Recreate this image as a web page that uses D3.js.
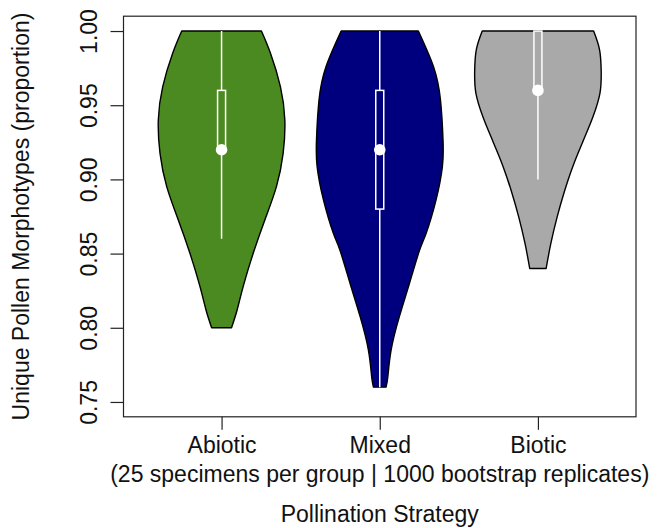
<!DOCTYPE html>
<html>
<head>
<meta charset="utf-8">
<script src="https://cdn.jsdelivr.net/npm/d3@7"></script>
<style>
  html, body { margin: 0; padding: 0; background: #ffffff; }
  svg { display: block; }
  text { font-family: "Liberation Sans", Arial, Helvetica, sans-serif; fill: #111; }
</style>
</head>
<body>
<svg id="chart" width="665" height="528"></svg>
<script>
// ---------------- data ----------------
const categories = ["Abiotic", "Mixed", "Biotic"];
const yTicks = [0.75, 0.80, 0.85, 0.90, 0.95, 1.00];

const whiskerLow  = [0.86, 0.76, 0.90];
const q1          = [0.92, 0.88, 0.96];
const medians     = [0.92, 0.92, 0.96];
const q3          = [0.96, 0.96, 1.00];
const whiskerHigh = [1.00, 1.00, 1.00];

// density outlines (value, relative density 0..1)
const abioticDensityV = [1.000, 0.985, 0.9625, 0.940, 0.9176, 0.8951, 0.8727, 0.8502, 0.8277, 0.812, 0.800];
const abioticDensityD = [0.63, 0.773, 0.93, 1.00, 0.973, 0.867, 0.684, 0.50, 0.341, 0.246, 0.157];

const mixedDensityV = [1.000, 0.976, 0.9535, 0.9266, 0.9086, 0.8862, 0.8639, 0.8524, 0.830, 0.8075, 0.7851, 0.767, 0.760];
const mixedDensityD = [0.61, 0.85, 0.96, 1.00, 0.99, 0.89, 0.735, 0.63, 0.47, 0.31, 0.18, 0.128, 0.10];

const bioticDensityV = [1.000, 0.9872, 0.9726, 0.958, 0.9423, 0.9311, 0.9244, 0.9086, 0.8907, 0.8749, 0.857, 0.840];
const bioticDensityD = [0.88, 0.975, 1.00, 0.98, 0.87, 0.765, 0.70, 0.55, 0.41, 0.305, 0.205, 0.13];

const fillColors = ["#4b8a20", "#00007f", "#a9a9a9"];

// ---------------- layout ----------------
const svg = d3.select("#chart");
const fontSize = 23;
const plot = { left: 123.5, right: 636, top: 16.2, bottom: 416.8 };

const x = d3.scaleLinear().domain([0.38, 3.62]).range([plot.left, plot.right]);
const y = d3.scaleLinear().domain([0.74, 1.01]).range([plot.bottom, plot.top]);
const halfWidth = 0.4; // max half width in x units

const densities = [
  abioticDensityV.map((v, i) => ({ v, d: abioticDensityD[i] })),
  mixedDensityV.map((v, i) => ({ v, d: mixedDensityD[i] })),
  bioticDensityV.map((v, i) => ({ v, d: bioticDensityD[i] }))
];

// violins
categories.forEach((c, i) => {
  const cx = i + 1;
  const area = d3.area()
    .y(d => y(d.v))
    .x0(d => x(cx - halfWidth * d.d))
    .x1(d => x(cx + halfWidth * d.d))
    .curve(d3.curveNatural);
  svg.append("path")
    .datum(densities[i])
    .attr("d", area)
    .attr("fill", fillColors[i])
    .attr("stroke", "#000")
    .attr("stroke-width", 1.4)
    .attr("stroke-linejoin", "round");

  // whisker
  svg.append("line")
    .attr("x1", x(cx)).attr("x2", x(cx))
    .attr("y1", y(whiskerLow[i])).attr("y2", y(whiskerHigh[i]))
    .attr("stroke", "#fff").attr("stroke-width", 1.5);

  // box
  const bw = 8;
  svg.append("rect")
    .attr("x", x(cx) - bw / 2)
    .attr("y", y(q3[i]))
    .attr("width", bw)
    .attr("height", Math.max(0, y(q1[i]) - y(q3[i])))
    .attr("fill", fillColors[i])
    .attr("stroke", "#fff")
    .attr("stroke-width", 1.5);

  // median
  svg.append("circle")
    .attr("cx", x(cx)).attr("cy", y(medians[i]))
    .attr("r", 5.8)
    .attr("fill", "#fff");
});

// plot frame
svg.append("rect")
  .attr("x", plot.left).attr("y", plot.top)
  .attr("width", plot.right - plot.left)
  .attr("height", plot.bottom - plot.top)
  .attr("fill", "none").attr("stroke", "#222").attr("stroke-width", 1.2);

// y axis
const yAxis = svg.append("g")
  .attr("transform", `translate(${plot.left},0)`)
  .call(d3.axisLeft(y).tickValues(yTicks).tickSize(13).tickFormat(d3.format(".2f")));
yAxis.select(".domain").remove();
yAxis.selectAll(".tick line").attr("stroke", "#222").attr("stroke-width", 1.2);
yAxis.selectAll(".tick text")
  .attr("x", 0).attr("y", 0).attr("dy", null)
  .attr("transform", "translate(-26.5,0) rotate(-90)")
  .attr("text-anchor", "middle")
  .style("font-size", fontSize + "px")
  .style("font-family", '"Liberation Sans", Arial, sans-serif')
  .attr("fill", "#111");

// x axis
const xAxis = svg.append("g")
  .attr("transform", `translate(0,${plot.bottom})`)
  .call(d3.axisBottom(x).tickValues([1, 2, 3]).tickSize(13).tickFormat((d, i) => categories[i]));
xAxis.select(".domain").remove();
xAxis.selectAll(".tick line").attr("stroke", "#222").attr("stroke-width", 1.2);
xAxis.selectAll(".tick text")
  .attr("y", 36.5).attr("dy", null)
  .style("font-size", fontSize + "px")
  .style("font-family", '"Liberation Sans", Arial, sans-serif')
  .attr("fill", "#111");

// subtitle line under categories
svg.append("text")
  .attr("x", x(2)).attr("y", 482)
  .attr("text-anchor", "middle")
  .style("font-size", fontSize + "px")
  .text("(25 specimens per group | 1000 bootstrap replicates)");

// x title
svg.append("text")
  .attr("x", (plot.left + plot.right) / 2).attr("y", 521.5)
  .attr("text-anchor", "middle")
  .style("font-size", fontSize + "px")
  .text("Pollination Strategy");

// y title
svg.append("text")
  .attr("transform", `translate(28.5,${(plot.top + plot.bottom) / 2}) rotate(-90)`)
  .attr("text-anchor", "middle")
  .style("font-size", fontSize + "px")
  .text("Unique Pollen Morphotypes (proportion)");
</script>
</body>
</html>
